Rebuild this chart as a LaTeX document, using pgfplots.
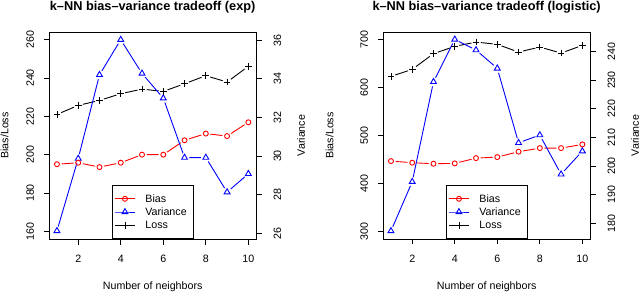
\documentclass[border=0pt]{standalone}
\usepackage{fontspec}
\setmainfont{Liberation Sans}
\usepackage{pgfplots}
\pgfplotsset{compat=1.18}
\newcommand{\fs}{\fontsize{10.7}{12.8}\selectfont}
\pgfplotsset{
  base/.style={scale only axis, width=206.7bp, height=207bp, xmin=0.64, xmax=10.36,
    xtick={2,4,6,8,10}, tick align=outside, major tick length=5.5bp,
    /pgf/number format/assume math mode=true,
    tick label style={font=\fs}, label style={font=\fs},
    axis line style={line width=0.8bp}, tick style={line width=0.8bp, black}},
  main/.style={base, xtick pos=left, ytick pos=left,
    xticklabel style={anchor=base}, xticklabel shift=18.2bp,
    yticklabel style={rotate=90, anchor=base}, yticklabel shift=10bp,
    xlabel={Number of neighbors},
    xlabel style={at={(axis description cs:0.5,0)}, anchor=base, yshift=-50bp},
    title style={at={(axis description cs:0.5,1)}, anchor=base, yshift=16bp, font=\bfseries\fontsize{12.8}{15}\selectfont}},
  second/.style={base, axis x line=none, axis y line*=right, ytick pos=right,
    yticklabel style={rotate=90, anchor=base}, yticklabel shift=19.5bp,
    ylabel={Variance}, ylabel style={at={(axis description cs:1.236,0.5)}, anchor=base, inner sep=0pt}},
  third/.style={base, hide axis,
    legend image code/.code={\draw[mark repeat=2, mark phase=2] plot coordinates {(0bp,3.8bp) (10bp,3.8bp) (20bp,3.8bp)};},
    legend cell align=left,
    legend style={at={(0.5,0)}, anchor=south, draw=black, line width=0.8bp, fill=white,
      inner xsep=2.3bp, inner ysep=9.6bp, row sep=5.5bp, column sep=10bp, font=\fs,
      nodes={inner sep=0pt, text height=7.7bp, text depth=0pt, text width=45.4bp, align=left, anchor=base west}}},
  ln/.style={line width=0.9bp, mark=none},
  gap/.style={white, only marks, mark=*, mark size=4.5bp, mark options={draw=white, fill=white, line width=0.5bp}, forget plot},
  bmk/.style={red, line width=0.9bp, mark=o, mark size=2.5bp},
  vmk/.style={blue, line width=0.9bp, mark=triangle, mark size=3.4bp},
  lmk/.style={black, line width=0.9bp, mark=+, mark size=3.35bp},
}
\begin{document}
\begin{tikzpicture}
\useasboundingbox (0bp,0bp) rectangle (640bp,292bp);
% ---------- Panel 1 ----------
\begin{axis}[main, at={(49.3bp,53bp)}, anchor=south west, ymin=156, ymax=264, ytick={160,180,200,220,240,260},
  ylabel={Bias/Loss}, ylabel style={at={(axis description cs:-0.1985,0.5)}, anchor=base},
  title={k--NN bias--variance tradeoff (exp)}]
\addplot[red, ln] coordinates {(1,195.0)(2,195.8)(3,193.5)(4,195.8)(5,200.0)(6,200.0)(7,207.5)(8,211.0)(9,209.7)(10,216.9)};
\addplot[gap] coordinates {(1,195.0)(2,195.8)(3,193.5)(4,195.8)(5,200.0)(6,200.0)(7,207.5)(8,211.0)(9,209.7)(10,216.9)};
\addplot[black, ln] coordinates {(1,221.0)(2,225.7)(3,228.3)(4,231.8)(5,234.2)(6,233.0)(7,237.0)(8,241.2)(9,237.9)(10,246.1)};
\addplot[gap] coordinates {(1,221.0)(2,225.7)(3,228.3)(4,231.8)(5,234.2)(6,233.0)(7,237.0)(8,241.2)(9,237.9)(10,246.1)};
\end{axis}
\begin{axis}[second, at={(49.3bp,53bp)}, anchor=south west, ymin=25.70, ymax=36.43, ytick={26,28,30,32,34,36}]
\addplot[blue, ln] coordinates {(1,26.12)(2,29.87)(3,34.21)(4,36.03)(5,34.28)(6,33.0)(7,29.92)(8,29.92)(9,28.13)(10,29.08)};
\addplot[gap] coordinates {(1,26.12)(2,29.87)(3,34.21)(4,36.03)(5,34.28)(6,33.0)(7,29.92)(8,29.92)(9,28.13)(10,29.08)};
\addplot[vmk, only marks] coordinates {(1,26.12)(2,29.87)(3,34.21)(4,36.03)(5,34.28)(6,33.0)(7,29.92)(8,29.92)(9,28.13)(10,29.08)};
\end{axis}
\begin{axis}[third, at={(49.3bp,53bp)}, anchor=south west, ymin=156, ymax=264]
\addlegendimage{bmk}\addlegendentry{Bias}
\addlegendimage{vmk}\addlegendentry{Variance}
\addlegendimage{lmk}\addlegendentry{Loss}
\addplot[bmk, only marks, forget plot] coordinates {(1,195.0)(2,195.8)(3,193.5)(4,195.8)(5,200.0)(6,200.0)(7,207.5)(8,211.0)(9,209.7)(10,216.9)};
\addplot[lmk, only marks, forget plot] coordinates {(1,221.0)(2,225.7)(3,228.3)(4,231.8)(5,234.2)(6,233.0)(7,237.0)(8,241.2)(9,237.9)(10,246.1)};
\end{axis}
% ---------- Panel 2 ----------
\begin{axis}[main, at={(383.3bp,53bp)}, anchor=south west, ymin=284, ymax=716, ytick={300,400,500,600,700},
  ylabel={Bias/Loss}, ylabel style={at={(axis description cs:-0.242,0.5)}, anchor=base},
  title={k--NN bias--variance tradeoff (logistic)}]
\addplot[red, ln] coordinates {(1,446.6)(2,443.2)(3,441.1)(4,441.8)(5,452.8)(6,454.9)(7,466.2)(8,473.7)(9,473.7)(10,481.4)};
\addplot[gap] coordinates {(1,446.6)(2,443.2)(3,441.1)(4,441.8)(5,452.8)(6,454.9)(7,466.2)(8,473.7)(9,473.7)(10,481.4)};
\addplot[black, ln] coordinates {(1,623.4)(2,638.0)(3,670.8)(4,686.0)(5,695.0)(6,690.2)(7,674.1)(8,684.6)(9,672.0)(10,688.1)};
\addplot[gap] coordinates {(1,623.4)(2,638.0)(3,670.8)(4,686.0)(5,695.0)(6,690.2)(7,674.1)(8,684.6)(9,672.0)(10,688.1)};
\end{axis}
\begin{axis}[second, at={(383.3bp,53bp)}, anchor=south west, ymin=174.5, ymax=246.8, ytick={180,190,200,210,220,230,240}]
\addplot[blue, ln] coordinates {(1,177.3)(2,194.5)(3,229.4)(4,244.2)(5,240.5)(6,234.1)(7,208.1)(8,210.8)(9,197.1)(10,205.2)};
\addplot[gap] coordinates {(1,177.3)(2,194.5)(3,229.4)(4,244.2)(5,240.5)(6,234.1)(7,208.1)(8,210.8)(9,197.1)(10,205.2)};
\addplot[vmk, only marks] coordinates {(1,177.3)(2,194.5)(3,229.4)(4,244.2)(5,240.5)(6,234.1)(7,208.1)(8,210.8)(9,197.1)(10,205.2)};
\end{axis}
\begin{axis}[third, at={(383.3bp,53bp)}, anchor=south west, ymin=284, ymax=716]
\addlegendimage{bmk}\addlegendentry{Bias}
\addlegendimage{vmk}\addlegendentry{Variance}
\addlegendimage{lmk}\addlegendentry{Loss}
\addplot[bmk, only marks, forget plot] coordinates {(1,446.6)(2,443.2)(3,441.1)(4,441.8)(5,452.8)(6,454.9)(7,466.2)(8,473.7)(9,473.7)(10,481.4)};
\addplot[lmk, only marks, forget plot] coordinates {(1,623.4)(2,638.0)(3,670.8)(4,686.0)(5,695.0)(6,690.2)(7,674.1)(8,684.6)(9,672.0)(10,688.1)};
\end{axis}
\end{tikzpicture}
\end{document}
